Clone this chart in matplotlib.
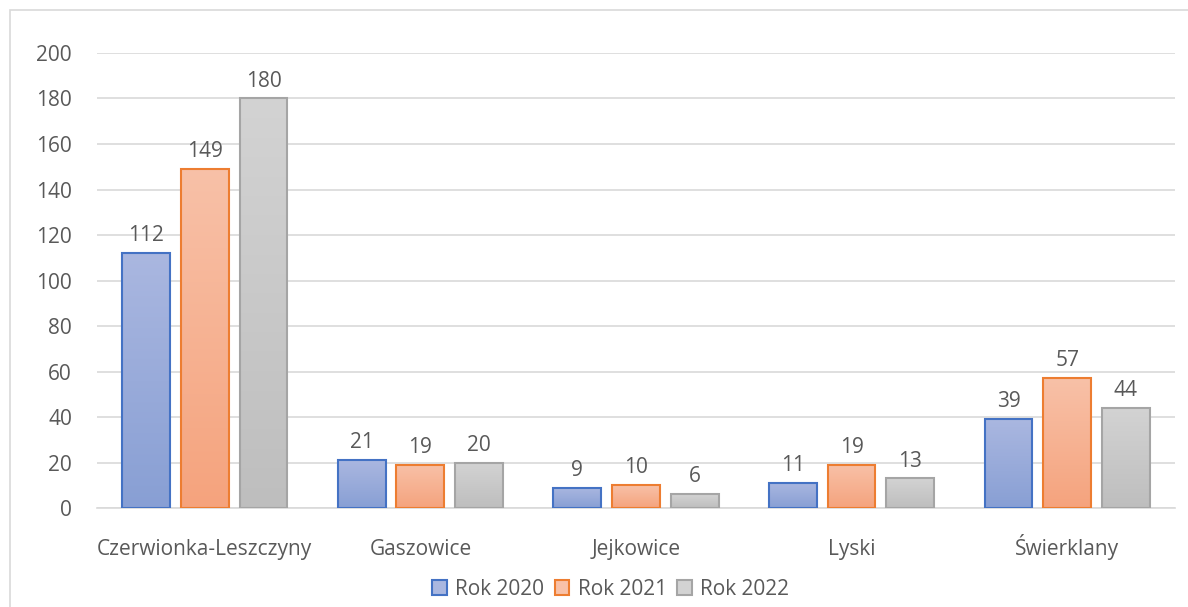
import numpy as np
import matplotlib
matplotlib.use("Agg")
import matplotlib.pyplot as plt
from matplotlib.colors import LinearSegmentedColormap
from matplotlib.patches import Rectangle

categories = ["Czerwionka-Leszczyny", "Gaszowice", "Jejkowice", "Lyski", "Świerklany"]
series_names = ["Rok 2020", "Rok 2021", "Rok 2022"]
rok_2020 = [112, 21, 9, 11, 39]
rok_2021 = [149, 19, 10, 19, 57]
rok_2022 = [180, 20, 6, 13, 44]
y_ticks = [0, 20, 40, 60, 80, 100, 120, 140, 160, 180, 200]

# colours: (top of gradient, bottom of gradient, edge)
styles = [("#AAB7E0", "#889FD4", "#4472C4"),
          ("#F8C1A8", "#F5A37D", "#ED7D31"),
          ("#D3D3D3", "#BEBEBE", "#A5A5A5")]

text_col = "#595959"
grid_col = "#D9D9D9"
fs = 15
plt.rcParams["font.family"] = ["Open Sans", "DejaVu Sans"]

fig = plt.figure(figsize=(11.88, 6.07), dpi=100)
ax = fig.add_axes([0.0817, 0.163, 0.9073, 0.7497])

x = np.arange(len(categories))
width = 0.222
step = 0.272
grad = np.linspace(0, 1, 256).reshape(-1, 1)

for i, (vals, name) in enumerate(zip([rok_2020, rok_2021, rok_2022], series_names)):
    top, bottom, edge = styles[i]
    cmap = LinearSegmentedColormap.from_list("g%d" % i, [bottom, top])
    pos = x + (i - 1) * step
    bars = ax.bar(pos, vals, width, color=top, edgecolor=edge, linewidth=1.5,
                  label=name, zorder=3)
    for b in bars:
        b.set_facecolor("none")
        im = ax.imshow(grad, cmap=cmap, origin="lower", aspect="auto",
                       extent=[b.get_x(), b.get_x() + b.get_width(), 0, b.get_height()],
                       zorder=2)
        im.set_clip_path(b)
    for p, v in zip(pos, vals):
        ax.annotate(str(v), (p, v), xytext=(0, 5), textcoords="offset points",
                    ha="center", va="bottom", fontsize=fs, color=text_col)

ax.set_xlim(-0.5, 4.5)
ax.set_ylim(0, 200)
ax.set_yticks(y_ticks)
ax.set_xticks(x)
ax.set_xticklabels(categories, va="baseline")
ax.tick_params(axis="both", length=0, labelsize=fs, colors=text_col)
ax.tick_params(axis="x", pad=34)
ax.tick_params(axis="y", pad=18)
ax.grid(axis="y", color=grid_col, linewidth=1.2, zorder=0)
for s in ["top", "right", "left"]:
    ax.spines[s].set_visible(False)
ax.spines["bottom"].set_color(grid_col)
ax.spines["bottom"].set_linewidth(1.2)

handles = [Rectangle((0, 0), 1, 1, facecolor=s[0], edgecolor=s[2], linewidth=1.5) for s in styles]
fig.legend(handles, series_names, loc="center", bbox_to_anchor=(0.514, 0.029), ncol=3,
           frameon=False, fontsize=fs, labelcolor=text_col, handlelength=0.7,
           handleheight=0.7, handletextpad=0.4, columnspacing=0.5)

fig.patches.append(Rectangle((10 / 1188, -0.05), 1.0, 1.05 - 10 / 607, transform=fig.transFigure,
                             fill=False, edgecolor=grid_col, linewidth=1.2))

fig.savefig("out.png", dpi=100)
